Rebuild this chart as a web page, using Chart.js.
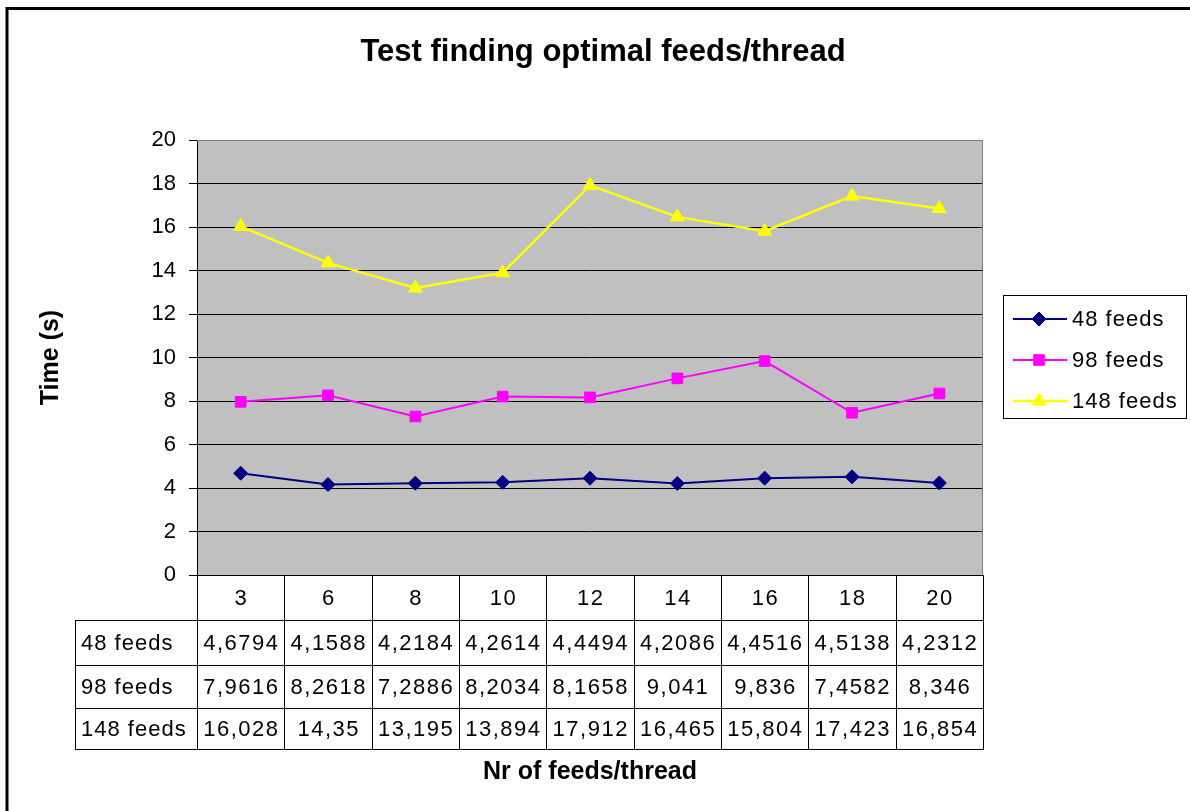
<!DOCTYPE html>
<html>
<head>
<meta charset="utf-8">
<script src="https://cdn.jsdelivr.net/npm/chart.js@4.4.1/dist/chart.umd.min.js"></script>
<style>
  html, body { margin: 0; padding: 0; background: #fff; }
  canvas { display: block; }
</style>
</head>
<body>
<canvas id="c" width="1190" height="811"></canvas>
<script>
// Benchmark results: time in seconds per run, by number of feeds handled per thread
const threadSizes = ['3', '6', '8', '10', '12', '14', '16', '18', '20'];
const feeds48  = [4.6794, 4.1588, 4.2184, 4.2614, 4.4494, 4.2086, 4.4516, 4.5138, 4.2312];
const feeds98  = [7.9616, 8.2618, 7.2886, 8.2034, 8.1658, 9.041, 9.836, 7.4582, 8.346];
const feeds148 = [16.028, 14.35, 13.195, 13.894, 17.912, 16.465, 15.804, 17.423, 16.854];
const seriesNames = ['48 feeds', '98 feeds', '148 feeds'];
const chartTitle = 'Test finding optimal feeds/thread';
const xTitle = 'Nr of feeds/thread';
const yTitle = 'Time (s)';
const yMin = 0, yMax = 20, yStep = 2;

const FONT = "'Liberation Sans', Arial, Helvetica, sans-serif";
Chart.defaults.font.family = FONT;
Chart.defaults.color = '#000';

// decimal comma, as in the data table
const fmt = v => String(v).replace('.', ',');

const decor = {
  id: 'decor',
  beforeDraw(chart) {
    const { ctx, chartArea: a } = chart;
    ctx.save();
    ctx.fillStyle = '#fff';
    ctx.fillRect(0, 0, chart.width, chart.height);
    // plot background
    ctx.fillStyle = '#c0c0c0';
    ctx.fillRect(a.left, a.top, a.right - a.left, a.bottom - a.top);
    // outer frame
    ctx.strokeStyle = '#000';
    ctx.lineWidth = 3;
    ctx.beginPath();
    ctx.moveTo(7, chart.height);
    ctx.lineTo(7, 8.5);
    ctx.lineTo(chart.width, 8.5);
    ctx.stroke();
    // chart title
    ctx.fillStyle = '#000';
    ctx.font = `bold 31px ${FONT}`;
    ctx.textAlign = 'center';
    ctx.textBaseline = 'middle';
    ctx.fillText(chartTitle, 603, 52);
    ctx.restore();
  },
  beforeDatasetsDraw(chart) {
    const { ctx, chartArea: a } = chart;
    ctx.save();
    ctx.strokeStyle = '#808080';
    ctx.lineWidth = 1;
    ctx.beginPath();
    ctx.moveTo(a.left, a.top + 0.5);
    ctx.lineTo(a.right - 0.5, a.top + 0.5);
    ctx.lineTo(a.right - 0.5, a.bottom);
    ctx.stroke();
    ctx.restore();
  },
  afterDraw(chart) {
    const { ctx, chartArea: a } = chart;
    const xs = chart.scales.x;
    const n = threadSizes.length;
    const step = (a.right - a.left) / n;
    const labelLeft = 75;
    const rows = [a.bottom, a.bottom + 45, a.bottom + 90, a.bottom + 133, a.bottom + 174];
    ctx.save();
    ctx.strokeStyle = '#000';
    ctx.lineWidth = 1;
    ctx.beginPath();
    // horizontal rules
    ctx.moveTo(a.left, rows[0] + 0.5); ctx.lineTo(a.right, rows[0] + 0.5);
    for (let r = 1; r < rows.length; r++) {
      ctx.moveTo(labelLeft, rows[r] + 0.5); ctx.lineTo(a.right, rows[r] + 0.5);
    }
    // vertical rules
    for (let k = 0; k <= n; k++) {
      const x = Math.round(a.left + k * step) + 0.5;
      ctx.moveTo(x, rows[0]); ctx.lineTo(x, rows[4] + 1);
    }
    ctx.moveTo(labelLeft + 0.5, rows[1]); ctx.lineTo(labelLeft + 0.5, rows[4] + 1);
    ctx.stroke();

    // table text
    ctx.fillStyle = '#000';
    ctx.font = `22px ${FONT}`;
    ctx.textBaseline = 'middle';
    ctx.textAlign = 'center';
    ctx.letterSpacing = '1.5px';
    threadSizes.forEach((t, i) => {
      ctx.fillText(t, xs.getPixelForValue(i) + 0.75, (rows[0] + rows[1]) / 2 + 1);
    });
    chart.data.datasets.forEach((ds, r) => {
      const cy = (rows[r + 1] + rows[r + 2]) / 2 + 1;
      ctx.textAlign = 'left';
      ctx.letterSpacing = '1px';
      ctx.fillText(ds.label, labelLeft + 6, cy);
      ctx.textAlign = 'center';
      ctx.letterSpacing = '1.5px';
      ds.data.forEach((v, i) => ctx.fillText(fmt(v), xs.getPixelForValue(i) + 0.75, cy));
    });

    // legend
    ctx.letterSpacing = '1px';
    ctx.strokeStyle = '#000';
    ctx.lineWidth = 1;
    ctx.strokeRect(1003.5, 295.5, 183, 123);
    const legendY = [319, 360, 401];
    chart.data.datasets.forEach((ds, r) => {
      const y = legendY[r];
      ctx.strokeStyle = ds.borderColor;
      ctx.lineWidth = ds.borderWidth;
      ctx.beginPath();
      ctx.moveTo(1013, y); ctx.lineTo(1067, y);
      ctx.stroke();
      ctx.fillStyle = ds.backgroundColor;
      ctx.lineWidth = 1;
      Chart.helpers.drawPoint(ctx, { pointStyle: ds.pointStyle, radius: ds.pointRadius, rotation: 0, borderWidth: 1 }, 1039, y);
      ctx.fillStyle = '#000';
      ctx.textAlign = 'left';
      ctx.fillText(ds.label, 1072, y + 1);
    });
    ctx.restore();
  }
};

new Chart(document.getElementById('c'), {
  type: 'line',
  data: {
    labels: threadSizes,
    datasets: [
      { label: seriesNames[0], data: feeds48, borderColor: '#000080', backgroundColor: '#000080',
        borderWidth: 2, pointStyle: 'rectRot', pointRadius: 7, pointBorderWidth: 1 },
      { label: seriesNames[1], data: feeds98, borderColor: '#ff00ff', backgroundColor: '#ff00ff',
        borderWidth: 2, pointStyle: 'rect', pointRadius: 7.5, pointBorderWidth: 1 },
      { label: seriesNames[2], data: feeds148, borderColor: '#ffff00', backgroundColor: '#ffff00',
        borderWidth: 2.5, pointStyle: 'triangle', pointRadius: 8, pointBorderWidth: 1 }
    ]
  },
  options: {
    responsive: false,
    animation: false,
    layout: { padding: { left: 20, right: 207, top: 140, bottom: 0 } },
    plugins: {
      legend: { display: false },
      title: { display: false },
      tooltip: { enabled: false }
    },
    elements: { line: { tension: 0 } },
    scales: {
      x: {
        type: 'category',
        offset: true,
        grid: { display: false },
        border: { display: false },
        ticks: { display: false },
        title: { display: true, text: xTitle, color: '#000',
                 font: { size: 25, weight: 'bold' }, padding: { top: 0, bottom: 24 } },
        afterFit: s => { s.height = 236; }
      },
      y: {
        min: yMin,
        max: yMax,
        ticks: { stepSize: yStep, font: { size: 22 }, color: '#000', padding: 13 },
        grid: {
          color: c => (c.tick && c.tick.value === yMax ? '#808080' : '#000'),
          tickColor: '#000',
          tickLength: 8,
          lineWidth: 1
        },
        border: { color: '#000', width: 1 },
        title: { display: true, text: yTitle, color: '#000',
                 font: { size: 25, weight: 'bold' }, padding: { top: 16, bottom: 0 } },
        afterFit: s => { s.width = 177; }
      }
    }
  },
  plugins: [decor]
});
</script>
</body>
</html>
